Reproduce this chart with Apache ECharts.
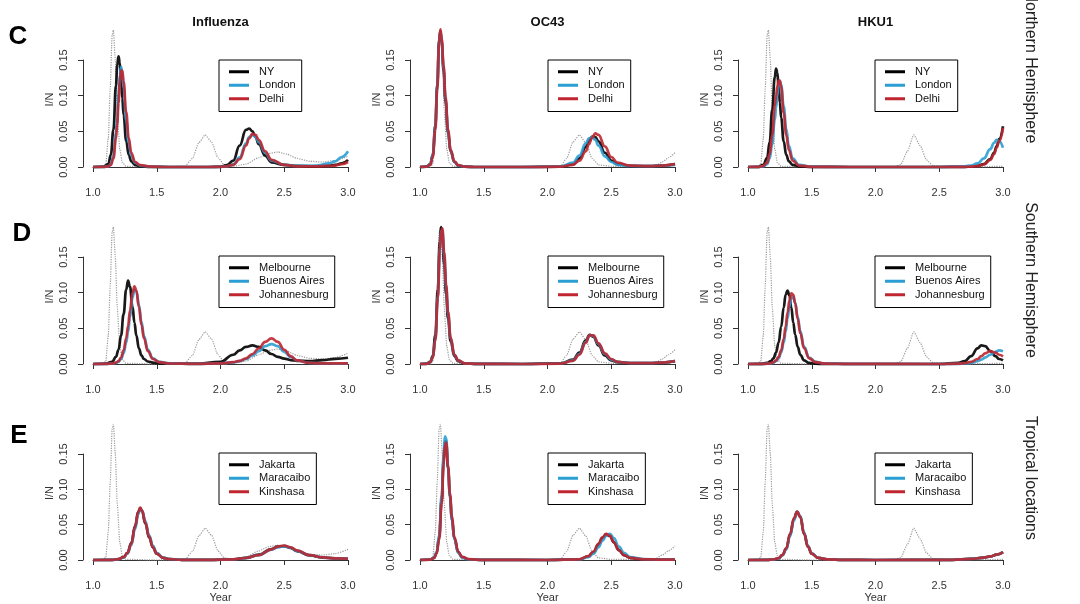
<!DOCTYPE html>
<html>
<head>
<meta charset="utf-8">
<title>Seasonal epidemic curves</title>
<style>
  html, body { margin: 0; padding: 0; background: #fff; }
  #chart { width: 1080px; height: 604px; }
</style>
</head>
<body>
<div id="chart"></div>
<script src="https://cdn.jsdelivr.net/npm/echarts@6/dist/echarts.min.js"></script>
<script>
// ---- data ----
const viruses = ['Influenza', 'OC43', 'HKU1'];
const regions = ['Northern Hemisphere', 'Southern Hemisphere', 'Tropical locations'];
const panelLetters = ['C', 'D', 'E'];
const cities = [
  ['NY', 'London', 'Delhi'],
  ['Melbourne', 'Buenos Aires', 'Johannesburg'],
  ['Jakarta', 'Maracaibo', 'Kinshasa']
];
const yearTicks = [1.0, 1.5, 2.0, 2.5, 3.0];
const ratioTicks = [0, 0.05, 0.10, 0.15];

// dotted reference curves (one per virus)
const refFluYear = [1.00, 1.08, 1.10, 1.12, 1.135, 1.15, 1.16, 1.175, 1.19, 1.21, 1.23, 1.26, 1.50, 1.72, 1.78, 1.83, 1.88, 1.93, 1.98, 2.03, 2.10, 2.20, 2.30, 2.38, 2.45, 2.52, 2.60, 2.70, 2.80, 2.90, 3.00];
const refFlu = [0, 0, 0.004, 0.04, 0.11, 0.185, 0.192, 0.15, 0.08, 0.025, 0.006, 0.001, 0, 0.001, 0.012, 0.034, 0.045, 0.035, 0.013, 0.003, 0.001, 0.004, 0.013, 0.019, 0.021, 0.018, 0.012, 0.008, 0.007, 0.009, 0.015];
const refOc43Year = [1.00, 1.08, 1.10, 1.12, 1.135, 1.15, 1.16, 1.175, 1.19, 1.21, 1.23, 1.26, 1.50, 2.10, 2.15, 2.20, 2.25, 2.30, 2.35, 2.40, 2.50, 2.70, 2.85, 2.90, 2.95, 3.00];
const refOc43 = [0, 0, 0.004, 0.04, 0.11, 0.185, 0.192, 0.15, 0.08, 0.025, 0.006, 0.001, 0, 0.001, 0.012, 0.035, 0.045, 0.034, 0.012, 0.003, 0.001, 0.001, 0.002, 0.007, 0.013, 0.02];
const refHku1Year = [1.00, 1.08, 1.10, 1.12, 1.135, 1.15, 1.16, 1.175, 1.19, 1.21, 1.23, 1.26, 1.50, 2.15, 2.20, 2.25, 2.30, 2.35, 2.40, 2.45, 2.60, 3.00];
const refHku1 = [0, 0, 0.004, 0.04, 0.11, 0.185, 0.192, 0.15, 0.08, 0.025, 0.006, 0.001, 0, 0, 0.004, 0.022, 0.045, 0.03, 0.01, 0.002, 0, 0.001];

// C: northern hemisphere
const yearNorthFlu = [1.00, 1.08, 1.12, 1.14, 1.16, 1.18, 1.19, 1.20, 1.21, 1.22, 1.23, 1.24, 1.26, 1.28, 1.30, 1.33, 1.37, 1.45, 1.60, 1.90, 2.00, 2.05, 2.10, 2.15, 2.20, 2.225, 2.25, 2.275, 2.30, 2.35, 2.40, 2.50, 2.60, 2.75, 2.85, 2.90, 2.95, 3.00];
const nyFlu = [0, 0.0005, 0.004, 0.017, 0.052, 0.114, 0.143, 0.155, 0.146, 0.122, 0.096, 0.073, 0.037, 0.017, 0.008, 0.003, 0.001, 0.0003, 0, 0, 0.0005, 0.0027, 0.009, 0.030, 0.052, 0.054, 0.050, 0.042, 0.032, 0.016, 0.0065, 0.003, 0.0015, 0.001, 0.002, 0.003, 0.005, 0.010];
const londonFlu = [0, 0.0002, 0.001, 0.004, 0.016, 0.047, 0.07, 0.103, 0.129, 0.14, 0.132, 0.111, 0.066, 0.034, 0.016, 0.006, 0.002, 0.0004, 0, 0, 0.0003, 0.001, 0.0036, 0.0135, 0.033, 0.042, 0.045, 0.042, 0.035, 0.02, 0.009, 0.003, 0.0015, 0.002, 0.005, 0.008, 0.014, 0.022];
const delhiFlu = [0, 0.0002, 0.001, 0.003, 0.012, 0.04, 0.06, 0.09, 0.118, 0.135, 0.135, 0.12, 0.077, 0.041, 0.02, 0.007, 0.0025, 0.0005, 0, 0, 0.0003, 0.001, 0.003, 0.011, 0.03, 0.040, 0.0465, 0.045, 0.038, 0.022, 0.01, 0.003, 0.001, 0.0008, 0.0015, 0.002, 0.004, 0.007];

const yearNorthOc43 = [1.00, 1.05, 1.08, 1.10, 1.12, 1.135, 1.15, 1.16, 1.17, 1.185, 1.20, 1.22, 1.24, 1.27, 1.30, 1.35, 1.45, 1.80, 2.10, 2.20, 2.25, 2.30, 2.325, 2.35, 2.375, 2.40, 2.45, 2.50, 2.55, 2.65, 2.80, 2.90, 3.00];
const nyOc43 = [0, 0.0005, 0.004, 0.017, 0.058, 0.115, 0.178, 0.19, 0.175, 0.135, 0.092, 0.048, 0.022, 0.007, 0.002, 0.0005, 0, 0, 0.0005, 0.004, 0.012, 0.028, 0.037, 0.0425, 0.042, 0.036, 0.02, 0.009, 0.004, 0.0015, 0.0012, 0.002, 0.004];
const londonOc43 = [0, 0.0005, 0.004, 0.016, 0.056, 0.112, 0.176, 0.19, 0.177, 0.138, 0.095, 0.05, 0.023, 0.007, 0.002, 0.0005, 0, 0, 0.0008, 0.006, 0.016, 0.033, 0.04, 0.042, 0.038, 0.03, 0.015, 0.007, 0.003, 0.0015, 0.0012, 0.002, 0.003];
const delhiOc43 = [0, 0.0004, 0.003, 0.014, 0.052, 0.108, 0.175, 0.193, 0.18, 0.142, 0.098, 0.052, 0.024, 0.008, 0.0025, 0.0006, 0, 0, 0.0004, 0.003, 0.009, 0.022, 0.032, 0.041, 0.047, 0.045, 0.029, 0.014, 0.006, 0.002, 0.0012, 0.002, 0.004];

const yearNorthHku1 = [1.00, 1.08, 1.12, 1.15, 1.17, 1.19, 1.21, 1.22, 1.23, 1.24, 1.25, 1.26, 1.28, 1.30, 1.32, 1.35, 1.40, 1.50, 1.80, 2.50, 2.70, 2.75, 2.80, 2.85, 2.90, 2.93, 2.95, 2.97, 3.00];
const nyHku1 = [0, 0.0003, 0.003, 0.013, 0.035, 0.08, 0.126, 0.138, 0.132, 0.113, 0.09, 0.069, 0.036, 0.017, 0.008, 0.003, 0.001, 0.0002, 0, 0, 0.0003, 0.0006, 0.0015, 0.004, 0.011, 0.02, 0.029, 0.039, 0.057];
const londonHku1 = [0, 0.0001, 0.001, 0.004, 0.012, 0.032, 0.066, 0.083, 0.1, 0.114, 0.12, 0.115, 0.085, 0.053, 0.03, 0.012, 0.003, 0.0004, 0, 0, 0.001, 0.002, 0.005, 0.012, 0.025, 0.034, 0.038, 0.036, 0.027];
const delhiHku1 = [0, 0.0001, 0.0015, 0.006, 0.018, 0.045, 0.086, 0.1, 0.113, 0.121, 0.121, 0.112, 0.076, 0.045, 0.024, 0.009, 0.002, 0.0003, 0, 0, 0.0002, 0.0005, 0.0012, 0.0035, 0.01, 0.018, 0.027, 0.036, 0.055];

// D: southern hemisphere
const yearSouthFlu = [1.00, 1.10, 1.15, 1.18, 1.20, 1.22, 1.24, 1.26, 1.275, 1.29, 1.31, 1.325, 1.34, 1.36, 1.38, 1.40, 1.43, 1.47, 1.52, 1.60, 1.80, 2.00, 2.10, 2.15, 2.20, 2.25, 2.30, 2.35, 2.40, 2.45, 2.50, 2.55, 2.60, 2.70, 2.80, 2.90, 3.00];
const melbourneFlu = [0, 0.0005, 0.003, 0.01, 0.02, 0.04, 0.07, 0.104, 0.117, 0.108, 0.08, 0.058, 0.04, 0.022, 0.012, 0.007, 0.0035, 0.0018, 0.001, 0.0005, 0.0004, 0.003, 0.013, 0.019, 0.024, 0.026, 0.024, 0.019, 0.014, 0.01, 0.0075, 0.0055, 0.0045, 0.004, 0.0055, 0.0072, 0.0088];
const buenosAiresFlu = [0, 0.0001, 0.0006, 0.0015, 0.003, 0.007, 0.015, 0.03, 0.045, 0.066, 0.093, 0.104, 0.102, 0.083, 0.059, 0.039, 0.02, 0.008, 0.003, 0.0008, 0.0002, 0.0008, 0.0022, 0.004, 0.007, 0.012, 0.018, 0.025, 0.028, 0.025, 0.017, 0.01, 0.005, 0.0015, 0.0008, 0.0006, 0.0006];
const johannesburgFlu = [0, 0.0001, 0.0008, 0.002, 0.004, 0.009, 0.019, 0.036, 0.053, 0.075, 0.1, 0.109, 0.103, 0.08, 0.055, 0.036, 0.018, 0.007, 0.0025, 0.0007, 0.0002, 0.0008, 0.0025, 0.0045, 0.008, 0.014, 0.022, 0.031, 0.036, 0.031, 0.02, 0.011, 0.005, 0.0015, 0.001, 0.0008, 0.0008];

const yearSouthOc43 = [1.00, 1.05, 1.08, 1.10, 1.12, 1.14, 1.155, 1.165, 1.175, 1.19, 1.205, 1.22, 1.24, 1.27, 1.30, 1.35, 1.45, 1.80, 2.10, 2.20, 2.25, 2.30, 2.33, 2.36, 2.40, 2.45, 2.50, 2.55, 2.65, 2.80, 2.90, 3.00];
const melbourneOc43 = [0, 0.0004, 0.003, 0.011, 0.04, 0.105, 0.172, 0.192, 0.18, 0.14, 0.098, 0.064, 0.032, 0.011, 0.004, 0.0008, 0.0001, 0, 0.0008, 0.006, 0.016, 0.033, 0.041, 0.038, 0.026, 0.012, 0.005, 0.0025, 0.0012, 0.0012, 0.002, 0.004];
const buenosAiresOc43 = [0, 0.0003, 0.0025, 0.009, 0.034, 0.095, 0.163, 0.186, 0.187, 0.152, 0.108, 0.071, 0.036, 0.013, 0.005, 0.001, 0.0001, 0, 0.0007, 0.005, 0.014, 0.031, 0.04, 0.039, 0.028, 0.014, 0.006, 0.003, 0.0012, 0.0012, 0.002, 0.004];
const johannesburgOc43 = [0, 0.0003, 0.0024, 0.009, 0.033, 0.093, 0.16, 0.185, 0.19, 0.156, 0.111, 0.073, 0.037, 0.013, 0.005, 0.001, 0.0001, 0, 0.0006, 0.0045, 0.013, 0.03, 0.04, 0.04, 0.029, 0.015, 0.007, 0.003, 0.0012, 0.0012, 0.002, 0.004];

const yearSouthHku1 = [1.00, 1.10, 1.15, 1.18, 1.20, 1.22, 1.24, 1.26, 1.28, 1.295, 1.31, 1.325, 1.34, 1.355, 1.37, 1.39, 1.41, 1.44, 1.48, 1.53, 1.60, 1.80, 2.50, 2.65, 2.70, 2.75, 2.80, 2.83, 2.86, 2.90, 2.94, 2.97, 3.00];
const melbourneHku1 = [0, 0.0002, 0.0015, 0.004, 0.008, 0.016, 0.03, 0.052, 0.079, 0.097, 0.103, 0.096, 0.079, 0.058, 0.041, 0.024, 0.013, 0.005, 0.0015, 0.0005, 0.0001, 0, 0, 0.0015, 0.004, 0.011, 0.022, 0.026, 0.025, 0.018, 0.011, 0.007, 0.005];
const buenosAiresHku1 = [0, 0.0001, 0.0004, 0.001, 0.002, 0.004, 0.008, 0.016, 0.03, 0.045, 0.064, 0.081, 0.092, 0.094, 0.086, 0.066, 0.046, 0.024, 0.009, 0.003, 0.0007, 0.0001, 0, 0.0003, 0.0007, 0.0017, 0.004, 0.006, 0.009, 0.013, 0.017, 0.019, 0.018];
const johannesburgHku1 = [0, 0.0001, 0.0005, 0.0013, 0.0025, 0.005, 0.01, 0.019, 0.035, 0.052, 0.072, 0.089, 0.099, 0.097, 0.085, 0.063, 0.043, 0.022, 0.008, 0.0025, 0.0006, 0.0001, 0, 0.0005, 0.0012, 0.003, 0.007, 0.011, 0.015, 0.018, 0.016, 0.013, 0.0105];

// E: tropical locations
const yearTropicFlu = [1.00, 1.15, 1.20, 1.24, 1.27, 1.30, 1.33, 1.355, 1.37, 1.385, 1.41, 1.44, 1.47, 1.50, 1.55, 1.60, 1.70, 1.90, 2.10, 2.20, 2.30, 2.40, 2.45, 2.50, 2.55, 2.60, 2.70, 2.80, 2.90, 3.00];
const jakartaFlu = [0, 0.0003, 0.0012, 0.004, 0.01, 0.024, 0.048, 0.068, 0.073, 0.069, 0.052, 0.032, 0.018, 0.009, 0.003, 0.0012, 0.0003, 0.0002, 0.001, 0.003, 0.0075, 0.0155, 0.019, 0.0195, 0.017, 0.0125, 0.0065, 0.0035, 0.0022, 0.0018];
const maracaiboFlu = [0, 0.0002, 0.001, 0.0035, 0.009, 0.021, 0.044, 0.065, 0.072, 0.07, 0.055, 0.035, 0.02, 0.01, 0.0035, 0.0013, 0.0003, 0.0002, 0.0009, 0.0027, 0.007, 0.0145, 0.018, 0.0195, 0.0175, 0.013, 0.0068, 0.0036, 0.0022, 0.0018];
const kinshasaFlu = [0, 0.0003, 0.0012, 0.004, 0.01, 0.023, 0.047, 0.068, 0.074, 0.07, 0.053, 0.033, 0.018, 0.009, 0.003, 0.0012, 0.0003, 0.0002, 0.0009, 0.0028, 0.007, 0.015, 0.019, 0.0205, 0.018, 0.0135, 0.007, 0.0036, 0.0022, 0.0018];

const yearTropicOc43 = [1.00, 1.08, 1.11, 1.13, 1.15, 1.17, 1.185, 1.195, 1.205, 1.22, 1.235, 1.25, 1.27, 1.30, 1.33, 1.38, 1.50, 2.00, 2.25, 2.32, 2.36, 2.40, 2.43, 2.46, 2.49, 2.52, 2.56, 2.60, 2.65, 2.75, 2.90, 3.00];
const jakartaOc43 = [0, 0.0006, 0.003, 0.01, 0.032, 0.085, 0.14, 0.168, 0.168, 0.13, 0.09, 0.058, 0.03, 0.011, 0.004, 0.001, 0.0001, 0, 0.001, 0.005, 0.011, 0.022, 0.031, 0.036, 0.034, 0.025, 0.014, 0.007, 0.003, 0.001, 0.0005, 0.0005];
const maracaiboOc43 = [0, 0.0007, 0.0035, 0.011, 0.035, 0.092, 0.148, 0.175, 0.172, 0.132, 0.09, 0.057, 0.029, 0.01, 0.0035, 0.0009, 0.0001, 0, 0.0008, 0.004, 0.009, 0.018, 0.027, 0.034, 0.037, 0.031, 0.019, 0.01, 0.004, 0.0012, 0.0005, 0.0005];
const kinshasaOc43 = [0, 0.0005, 0.0028, 0.009, 0.029, 0.08, 0.134, 0.162, 0.166, 0.133, 0.094, 0.061, 0.032, 0.012, 0.0045, 0.0012, 0.0001, 0, 0.001, 0.0055, 0.012, 0.023, 0.032, 0.037, 0.034, 0.025, 0.014, 0.007, 0.003, 0.001, 0.0005, 0.0005];

const yearTropicHku1 = [1.00, 1.15, 1.20, 1.24, 1.27, 1.30, 1.33, 1.36, 1.385, 1.41, 1.44, 1.47, 1.50, 1.55, 1.62, 1.75, 2.00, 2.60, 2.75, 2.85, 2.90, 2.95, 3.00];
const jakartaHku1 = [0, 0.0002, 0.0007, 0.0025, 0.007, 0.016, 0.036, 0.058, 0.068, 0.061, 0.037, 0.019, 0.009, 0.003, 0.0008, 0.0002, 0, 0.0003, 0.0015, 0.0035, 0.005, 0.0075, 0.011];
const maracaiboHku1 = [0, 0.0002, 0.0006, 0.0023, 0.0065, 0.015, 0.034, 0.056, 0.068, 0.062, 0.039, 0.02, 0.0095, 0.0032, 0.0008, 0.0002, 0, 0.0003, 0.0015, 0.0035, 0.005, 0.0075, 0.011];
const kinshasaHku1 = [0, 0.0002, 0.0007, 0.0026, 0.0072, 0.0165, 0.037, 0.059, 0.0685, 0.061, 0.037, 0.019, 0.009, 0.003, 0.0008, 0.0002, 0, 0.0003, 0.0015, 0.0035, 0.005, 0.0075, 0.011];

// ---- assemble ----
const references = [
  { years: refFluYear, values: refFlu },
  { years: refOc43Year, values: refOc43 },
  { years: refHku1Year, values: refHku1 }
];
const panels = [
  { years: yearNorthFlu, lines: [nyFlu, londonFlu, delhiFlu] },
  { years: yearNorthOc43, lines: [nyOc43, londonOc43, delhiOc43] },
  { years: yearNorthHku1, lines: [nyHku1, londonHku1, delhiHku1] },
  { years: yearSouthFlu, lines: [melbourneFlu, buenosAiresFlu, johannesburgFlu] },
  { years: yearSouthOc43, lines: [melbourneOc43, buenosAiresOc43, johannesburgOc43] },
  { years: yearSouthHku1, lines: [melbourneHku1, buenosAiresHku1, johannesburgHku1] },
  { years: yearTropicFlu, lines: [jakartaFlu, maracaiboFlu, kinshasaFlu] },
  { years: yearTropicOc43, lines: [jakartaOc43, maracaiboOc43, kinshasaOc43] },
  { years: yearTropicHku1, lines: [jakartaHku1, maracaiboHku1, kinshasaHku1] }
];

const FONT = '"Liberation Sans", Arial, Helvetica, sans-serif';
const lineColors = ['#000000', '#2b9fd3', '#bf2630'];
const colLeft = [93, 420, 748];
const rowTop = [60, 257, 454];
const plotW = 255;
const plotH = 107;
const legendLeft = [219, 548, 875];
const legendTop = [60, 256, 453];

const zip = (xs, ys) => xs.map((x, k) => [x, ys[k]]);

const grids = [], xAxes = [], yAxes = [], series = [], legends = [];

panels.forEach((p, i) => {
  const row = Math.floor(i / 3);
  const col = i % 3;
  grids.push({ left: colLeft[col], top: rowTop[row], width: plotW, height: plotH });

  xAxes.push({
    type: 'value', gridIndex: i,
    min: yearTicks[0], max: yearTicks[yearTicks.length - 1],
    interval: yearTicks[1] - yearTicks[0],
    offset: 6,
    name: row === 2 ? 'Year' : '',
    nameLocation: 'middle', nameGap: 26,
    nameTextStyle: { fontFamily: FONT, fontSize: 11, color: '#333' },
    axisLine: { show: true, lineStyle: { color: '#333', width: 1 } },
    axisTick: { show: true, length: 5, lineStyle: { color: '#333' } },
    axisLabel: { fontFamily: FONT, fontSize: 11, color: '#333', margin: 14, formatter: v => v.toFixed(1) },
    splitLine: { show: false }
  });

  yAxes.push({
    type: 'value', gridIndex: i,
    min: ratioTicks[0], max: ratioTicks[ratioTicks.length - 1],
    interval: ratioTicks[1] - ratioTicks[0],
    offset: 10,
    name: 'I/N',
    nameLocation: 'middle', nameRotate: 90, nameGap: 28,
    nameTextStyle: { fontFamily: FONT, fontSize: 11, color: '#333', padding: [0, 0, 0, 28] },
    axisLine: { show: true, lineStyle: { color: '#333', width: 1 } },
    axisTick: { show: true, length: 5, lineStyle: { color: '#333' } },
    axisLabel: { rotate: 90, fontFamily: FONT, fontSize: 11, color: '#333', margin: 14, formatter: v => v.toFixed(2) },
    splitLine: { show: false }
  });

  const ref = references[col];
  series.push({
    type: 'line', name: 'reference', xAxisIndex: i, yAxisIndex: i,
    data: zip(ref.years, ref.values),
    showSymbol: false, smooth: 0.2, smoothMonotone: 'x', clip: false, silent: true,
    lineStyle: { type: 'dotted', width: 1.2, color: '#9c9c9c' }, z: 2
  });

  p.lines.forEach((vals, k) => {
    series.push({
      type: 'line', name: cities[row][k], xAxisIndex: i, yAxisIndex: i,
      data: zip(p.years, vals),
      showSymbol: false, smooth: 0.45, smoothMonotone: 'x', clip: false, silent: true,
      color: lineColors[k],
      lineStyle: { width: 2.7, color: lineColors[k], opacity: 0.9 },
      itemStyle: { color: lineColors[k] }, z: 3 + k
    });
  });

  legends.push({
    data: cities[row], left: legendLeft[col], top: legendTop[row],
    orient: 'vertical', icon: 'rect', itemWidth: 20, itemHeight: 3, itemGap: 0,
    padding: [5, 6, 6, 10], borderColor: '#000', borderWidth: 1,
    backgroundColor: '#fff', selectedMode: false,
    textStyle: { fontFamily: FONT, fontSize: 11, color: '#111', lineHeight: 13.5, padding: [0, 0, 0, 5] }
  });
});

const graphics = [];
viruses.forEach((v, c) => {
  graphics.push({
    type: 'text', x: colLeft[c] + plotW / 2, y: 22,
    style: { text: v, fontFamily: FONT, fontSize: 13, fontWeight: 'bold', fill: '#111', align: 'center', verticalAlign: 'middle' }
  });
});
const letterPos = [[18, 37], [22, 234], [19, 436]];
panelLetters.forEach((t, r) => {
  graphics.push({
    type: 'text', x: letterPos[r][0], y: letterPos[r][1],
    style: { text: t, fontFamily: FONT, fontSize: 26, fontWeight: 'bold', fill: '#000', align: 'center', verticalAlign: 'middle' }
  });
});
const regionY = [67, 280, 478];
regions.forEach((t, r) => {
  graphics.push({
    type: 'text', x: 1030, y: regionY[r], rotation: -Math.PI / 2,
    style: { text: t, fontFamily: FONT, fontSize: 16, fill: '#222', align: 'center', verticalAlign: 'middle' }
  });
});

const chart = echarts.init(document.getElementById('chart'));
chart.setOption({
  animation: false,
  backgroundColor: '#fff',
  grid: grids,
  xAxis: xAxes,
  yAxis: yAxes,
  legend: legends,
  series: series,
  graphic: graphics
});
</script>
</body>
</html>
